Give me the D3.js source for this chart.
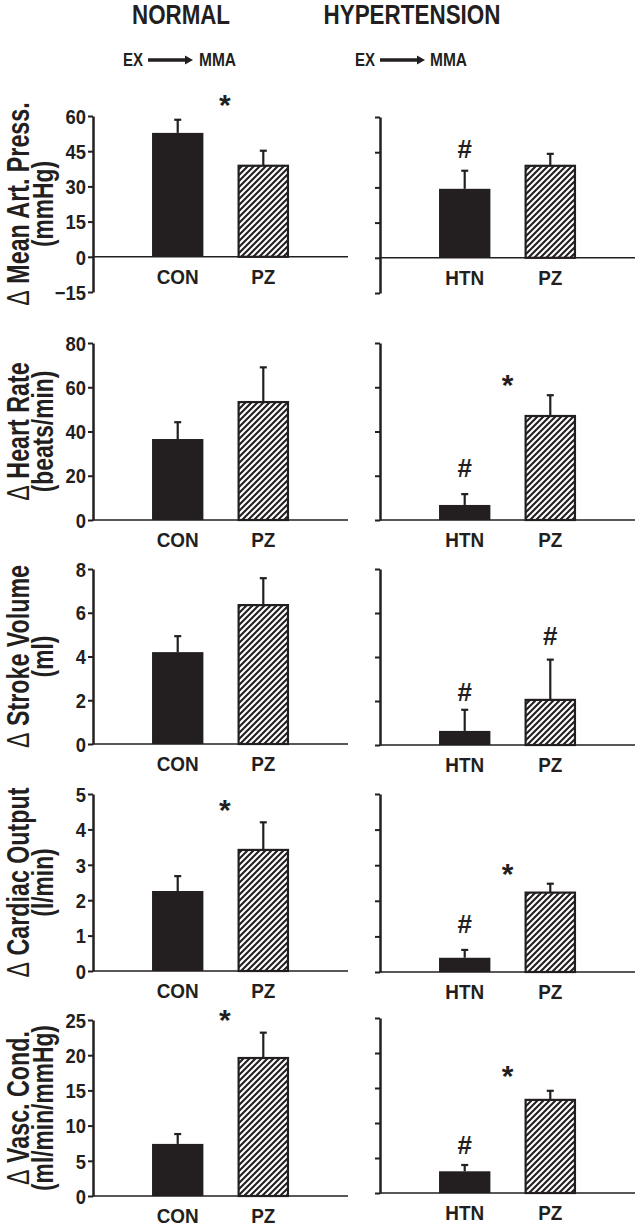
<!DOCTYPE html>
<html><head><meta charset="utf-8">
<script src="https://cdn.jsdelivr.net/npm/d3@7"></script>
<style>
body{margin:0;background:#fff}
text{font-family:"Liberation Sans",Arial,sans-serif;font-weight:bold;fill:#231f20}
</style>
</head><body><svg id="chart" width="639" height="1226"></svg>
<script>
// ---------- data ----------
const groupTitles = ["NORMAL", "HYPERTENSION"];
const normalCategories = ["CON", "PZ"];
const htnCategories = ["HTN", "PZ"];
const metricTitles = [
  ["Mean Art. Press.", "(mmHg)"],
  ["Heart Rate", "(beats/min)"],
  ["Stroke Volume", "(ml)"],
  ["Cardiac Output", "(l/min)"],
  ["Vasc. Cond.", "(ml/min/mmHg)"]
];
const yDomains = [[-15, 60], [0, 80], [0, 8], [0, 5], [0, 25]];
const yTickValues = [
  [-15, 0, 15, 30, 45, 60],
  [0, 20, 40, 60, 80],
  [0, 2, 4, 6, 8],
  [0, 1, 2, 3, 4, 5],
  [0, 5, 10, 15, 20, 25]
];
const normalMeans  = [[52.8, 38.8], [36.6, 53.3], [4.20, 6.35], [2.26, 3.42], [7.4, 19.6]];
const normalErrors = [[5.6, 6.4],   [7.6, 15.7],  [0.73, 1.23], [0.42, 0.78], [1.4, 3.6]];
const htnMeans     = [[29.4, 39.2], [6.8, 47.0],  [0.64, 2.05], [0.40, 2.23], [3.1, 13.3]];
const htnErrors    = [[7.7, 5.1],   [4.9, 9.4],   [0.96, 1.83], [0.22, 0.25], [0.9, 1.3]];
// significance marks: row, side (0 normal, 1 hypertension), category index (fractional = between), symbol, y value
const annotationRows    = [0, 0, 1, 1, 2, 2, 3, 3, 3, 4, 4, 4];
const annotationSides   = [0, 1, 1, 1, 1, 1, 0, 1, 1, 0, 1, 1];
const annotationIndex   = [0.55, 0, 0, 0.5, 0, 1, 0.55, 0, 0.5, 0.55, 0, 0.5];
const annotationSymbols = ["*", "#", "#", "*", "#", "#", "*", "#", "*", "*", "#", "*"];
const annotationValues  = [67.7, 46.4, 23.5, 64, 2.42, 4.98, 4.75, 1.36, 2.94, 25.9, 6.9, 17.7];

// ---------- layout ----------
const svg = d3.select("#chart");
const ink = "#231f20";
const axisX = [93, 380];
const panelWidth = 255;
const rowRanges = [
  [[292, 116], [293, 117]],
  [[520, 343], [520, 343]],
  [[744, 569], [745, 569]],
  [[971, 794], [972, 794]],
  [[1196, 1020], [1193, 1018]]
];

function squeeze(sel, r) {
  sel.each(function () {
    const w = this.getComputedTextLength();
    d3.select(this).attr("textLength", w * r).attr("lengthAdjust", "spacingAndGlyphs");
  });
}

// hatch pattern
const defs = svg.append("defs");
const hp = 6;
defs.append("pattern").attr("id", "hatch").attr("patternUnits", "userSpaceOnUse")
  .attr("width", hp).attr("height", hp)
  .append("path")
  .attr("d", `M-1,1 l2,-2 M0,${hp} l${hp},${-hp} M${hp - 1},${hp + 1} l2,-2`)
  .attr("stroke", ink).attr("stroke-width", 2.1);

// headers
const headerCenters = [181, 412];
const headerWidths = [98, 177];
groupTitles.forEach((t, i) => {
  svg.append("text").attr("x", headerCenters[i]).attr("y", 24).attr("text-anchor", "middle")
    .style("font-size", "27px").text(t)
    .attr("textLength", headerWidths[i]).attr("lengthAdjust", "spacingAndGlyphs");
});
// EX -> MMA
const exX = [[123, 148, 193, 199], [355, 380, 425, 430]];
exX.forEach(p => {
  svg.append("text").attr("x", p[0]).attr("y", 66).style("font-size", "18px").text("EX")
    .attr("textLength", 20).attr("lengthAdjust", "spacingAndGlyphs");
  svg.append("line").attr("x1", p[1]).attr("x2", p[2] - 6).attr("y1", 60).attr("y2", 60)
    .attr("stroke", ink).attr("stroke-width", 3.5);
  svg.append("path").attr("d", `M${p[2]},60 L${p[2] - 8},55.5 L${p[2] - 8},64.5 Z`).attr("fill", ink);
  svg.append("text").attr("x", p[3]).attr("y", 66).style("font-size", "18px").text("MMA")
    .attr("textLength", 37).attr("lengthAdjust", "spacingAndGlyphs");
});

// panels
metricTitles.forEach((title, r) => {
  [0, 1].forEach(side => {
    const x0 = axisX[side];
    const cats = side === 0 ? normalCategories : htnCategories;
    const means = side === 0 ? normalMeans[r] : htnMeans[r];
    const errs = side === 0 ? normalErrors[r] : htnErrors[r];
    const y = d3.scaleLinear().domain(yDomains[r]).range(rowRanges[r][side]);
    const x = d3.scaleBand().domain(cats).range([x0, x0 + panelWidth])
      .paddingInner(0.4).paddingOuter(0.69);
    const g = svg.append("g");

    // bars
    cats.forEach((c, i) => {
      const top = y(means[i]), base = y(0);
      g.append("rect").attr("x", x(c) + (i === 1 ? 1 : 0)).attr("y", top)
        .attr("width", x.bandwidth() - (i === 1 ? 2 : 0)).attr("height", base - top)
        .attr("fill", i === 0 ? ink : "url(#hatch)")
        .attr("stroke", i === 1 ? ink : "none").attr("stroke-width", 2.2);
      const cx = x(c) + x.bandwidth() / 2;
      const et = y(means[i] + errs[i]);
      g.append("line").attr("x1", cx).attr("x2", cx).attr("y1", top).attr("y2", et)
        .attr("stroke", ink).attr("stroke-width", 2.2);
      g.append("line").attr("x1", cx - 3.5).attr("x2", cx + 3.5).attr("y1", et).attr("y2", et)
        .attr("stroke", ink).attr("stroke-width", 2.2);
      // category label
      g.append("text").attr("x", cx).attr("y", y(0) + 27).attr("text-anchor", "middle")
        .style("font-size", "21px").text(c).call(squeeze, 0.9);
    });

    // x axis line
    g.append("line").attr("x1", x0).attr("x2", x0 + panelWidth).attr("y1", y(0)).attr("y2", y(0))
      .attr("stroke", ink).attr("stroke-width", 1.6);

    // y axis
    const ax = d3.axisLeft(y).tickValues(yTickValues[r]).tickSize(5).tickSizeOuter(0)
      .tickFormat(side === 0 ? d3.format("d") : () => "");
    const ag = g.append("g").attr("transform", `translate(${x0},0)`).call(ax);
    ag.select(".domain").attr("stroke", ink).attr("stroke-width", 2.5);
    ag.selectAll(".tick line").attr("stroke", ink).attr("stroke-width", 2);
    ag.selectAll(".tick text").attr("x", -7).style("font-size", "20px")
      .style("font-family", '"Liberation Sans",Arial,sans-serif').style("font-weight", "bold")
      .attr("fill", ink).attr("dy", "0.36em").call(squeeze, 0.92);

    // y title
    if (side === 0) {
      const cy = (rowRanges[r][0][0] + rowRanges[r][0][1]) / 2;
      const t1 = svg.append("text").attr("transform", `translate(29,${cy}) rotate(-90)`)
        .attr("text-anchor", "middle").style("font-size", "31px");
      t1.append("tspan").style("font-weight", "normal").text("\u0394");
      t1.append("tspan").text(" " + title[0]);
      t1.call(squeeze, 0.75);
      svg.append("text").attr("transform", `translate(53,${cy}) rotate(-90)`)
        .attr("text-anchor", "middle").style("font-size", "30px").text(title[1]).call(squeeze, 0.76);
    }
  });
});

// annotations
annotationRows.forEach((r, k) => {
  const side = annotationSides[k];
  const x0 = axisX[side];
  const cats = side === 0 ? normalCategories : htnCategories;
  const x = d3.scaleBand().domain(cats).range([x0, x0 + panelWidth]).paddingInner(0.4).paddingOuter(0.69);
  const y = d3.scaleLinear().domain(yDomains[r]).range(rowRanges[r][side]);
  const idx = annotationIndex[k];
  const cx = x(cats[0]) + x.bandwidth() / 2 + idx * x.step();
  const sym = annotationSymbols[k];
  const fs = sym === "*" ? 30 : 26;
  const off = sym === "*" ? 0.56 * fs : 0.36 * fs;
  svg.append("text").attr("x", cx).attr("y", y(annotationValues[k]) + off)
    .attr("text-anchor", "middle").style("font-size", fs + "px").text(sym);
});
</script>
</body></html>
